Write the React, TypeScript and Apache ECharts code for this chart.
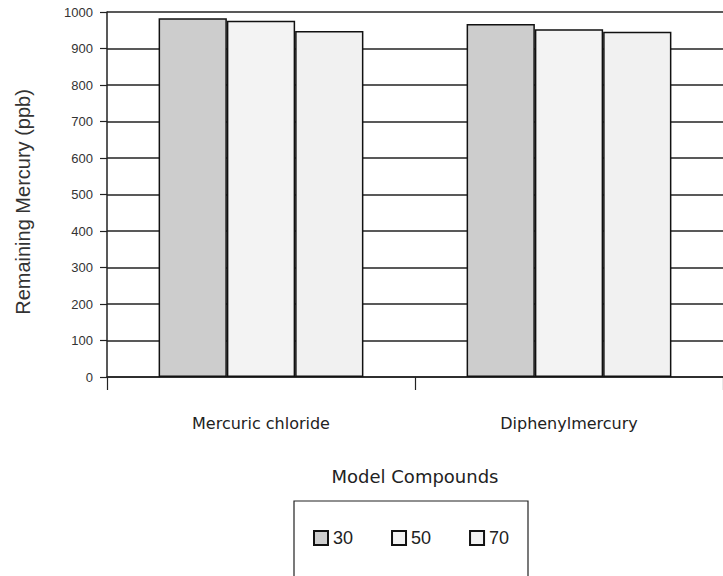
import React, { useEffect, useRef } from "react";
import * as echarts from "echarts";

const categories = ["Mercuric chloride", "Diphenylmercury"];
const seriesNames = ["30", "50", "70"];
const values30 = [983, 967];
const values50 = [976, 953];
const values70 = [948, 946];
const seriesValues = [values30, values50, values70];
const seriesColors = ["#cdcdcd", "#f3f3f3", "#f1f1f1"];
const yAxisTitle = "Remaining Mercury (ppb)";
const xAxisTitle = "Model Compounds";

export default function App() {
  const ref = useRef<HTMLDivElement>(null);
  useEffect(() => {
    if (!ref.current) return;
    const chart = echarts.init(ref.current, null, { renderer: "svg" });
    const lineColor = "#222";
    chart.setOption({
      animation: false,
      backgroundColor: "#fff",
      grid: { left: 107, right: -4, top: 12, bottom: 199, containLabel: false },
      xAxis: {
        type: "category",
        data: categories,
        boundaryGap: true,
        axisLine: { show: true, lineStyle: { color: lineColor, width: 1.5 } },
        axisTick: { show: true, length: 13, inside: false, lineStyle: { color: lineColor, width: 1.2 } },
        axisLabel: { margin: 38, fontFamily: "DejaVu Sans", fontSize: 16, color: "#222" },
        name: xAxisTitle,
        nameLocation: "middle",
        nameGap: 90,
        nameTextStyle: { fontFamily: "DejaVu Sans", fontSize: 18, color: "#222" },
      },
      yAxis: {
        type: "value",
        min: 0,
        max: 1000,
        interval: 100,
        axisLine: { show: true, lineStyle: { color: lineColor, width: 1.5 } },
        axisTick: { show: true, length: 7, lineStyle: { color: lineColor, width: 1.2 } },
        axisLabel: {
          margin: 14,
          fontFamily: "Liberation Sans",
          fontSize: 13,
          color: "#333",
          formatter: (v: number) => String(v),
        },
        splitLine: { show: true, lineStyle: { color: lineColor, width: 1.5 } },
      },
      legend: {
        data: seriesNames,
        left: 313,
        top: 529,
        padding: 0,
        icon: "rect",
        itemWidth: 14,
        itemHeight: 14,
        itemGap: 38,
        textStyle: { fontFamily: "Liberation Sans", fontSize: 18, color: "#222" },
      },
      graphic: [
        {
          type: "text",
          x: 23,
          y: 202,
          rotation: Math.PI / 2,
          style: {
            text: yAxisTitle,
            fontFamily: "Liberation Sans",
            fontSize: 20,
            fill: "#333",
            textAlign: "center",
            textVerticalAlign: "middle",
          },
        },
        {
          type: "rect",
          shape: { x: 294, y: 501, width: 234, height: 90 },
          style: { fill: "none", stroke: "#222", lineWidth: 1.2 },
          silent: true,
        },
      ],
      series: seriesNames.map((name, i) => ({
        name,
        type: "bar",
        data: seriesValues[i],
        barGap: "0%",
        barCategoryGap: "33.5%",
        itemStyle: { color: seriesColors[i], borderColor: "#111", borderWidth: 1.5 },
      })),
    });
    return () => chart.dispose();
  }, []);
  return (
    <div
      ref={ref}
      style={{ position: "fixed", left: 0, top: 0, width: 723, height: 576 }}
    />
  );
}
